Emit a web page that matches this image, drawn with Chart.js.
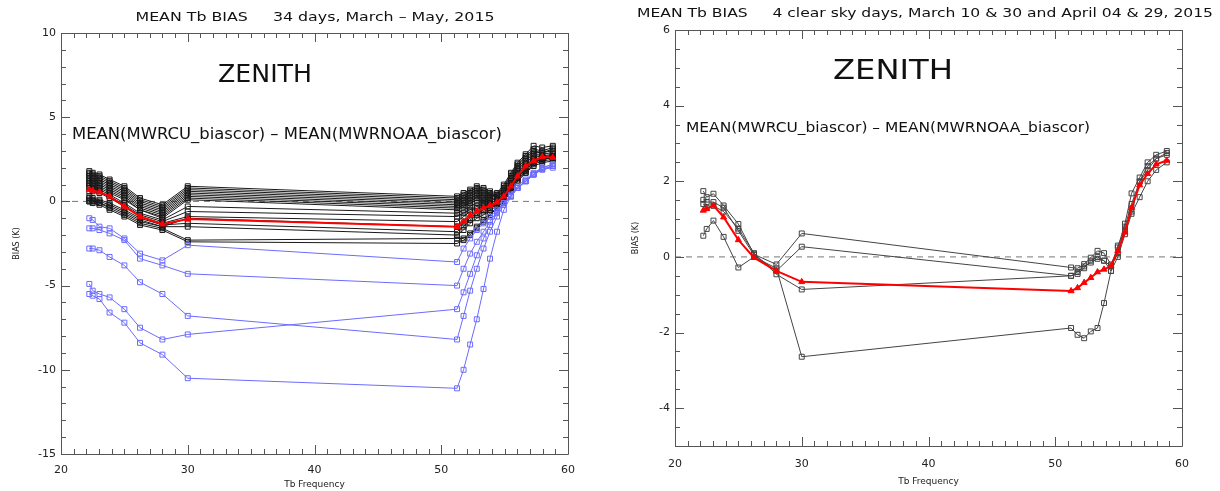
<!DOCTYPE html>
<html>
<head>
<meta charset="utf-8">
<script src="https://cdn.jsdelivr.net/npm/chart.js@4.4.0/dist/chart.umd.min.js"></script>
<style>
  html, body { margin: 0; padding: 0; background: #fff; }
  #wrap { display: flex; width: 1220px; height: 491px; }
  canvas { display: block; }
</style>
</head>
<body>
<div id="wrap">
  <canvas id="left" width="610" height="491"></canvas>
  <canvas id="right" width="610" height="491"></canvas>
</div>
<script>
// MWR channel frequencies (GHz)
const freq = [22.234, 22.5, 23.034, 23.834, 25.0, 26.234, 28.0, 30.0,
  51.248, 51.76, 52.28, 52.804, 53.336, 53.848, 54.4, 54.94, 55.5, 56.02, 56.66, 57.288, 57.964, 58.8];

const xTicks = [20, 30, 40, 50, 60];
const leftYTicks = [-15, -10, -5, 0, 5, 10];
const rightYTicks = [-4, -2, 0, 2, 4, 6];

// left panel: 34 days
const leftRed = [0.7, 0.65, 0.55, 0.3, -0.3, -0.9, -1.35, -1.05, -1.5, -1.2, -0.85, -0.6, -0.4, -0.25, -0.05, 0.3, 0.9, 1.5, 2.1, 2.4, 2.65, 2.6];

const leftBlue1 = [-1.0, -1.1, -1.5, -1.6, -2.2, -3.1, -3.5, -2.6, -3.6, -2.8, -2.2, -1.7, -1.3, -0.9, -0.5, -0.1, 0.4, 0.9, 1.3, 1.7, 2.0, 2.2];
const leftBlue2 = [-1.6, -1.6, -1.7, -1.9, -2.3, -3.4, -3.8, -4.3, -5.0, -4.0, -3.1, -2.4, -1.8, -1.2, -0.6, -0.1, 0.3, 0.8, 1.2, 1.6, 1.9, 2.1];
const leftBlue3 = [-2.8, -2.8, -2.9, -3.3, -3.8, -4.8, -5.5, -6.8, -8.2, -6.8, -5.3, -4.0, -2.8, -1.8, -0.9, -0.2, 0.3, 0.8, 1.2, 1.6, 1.9, 2.1];
const leftBlue4 = [-4.9, -5.3, -5.5, -5.7, -6.4, -7.5, -8.2, -7.9, -6.4, -5.4, -4.3, -3.2, -2.2, -1.4, -0.7, -0.1, 0.3, 0.8, 1.2, 1.6, 2.0, 2.2];
const leftBlue5 = [-5.5, -5.6, -5.8, -6.6, -7.2, -8.4, -9.1, -10.5, -11.1, -10.0, -8.5, -7.0, -5.2, -3.4, -1.8, -0.5, 0.3, 0.8, 1.2, 1.6, 1.9, 2.0];

const leftBlack1 = [1.8, 1.7, 1.6, 1.3, 0.9, 0.2, -0.2, 0.9, 0.3, 0.5, 0.7, 0.9, 0.8, 0.6, 0.5, 1.0, 1.7, 2.3, 2.8, 3.3, 3.2, 3.3];
const leftBlack2 = [1.7, 1.6, 1.5, 1.2, 0.8, 0.1, -0.3, 0.8, 0.2, 0.4, 0.6, 0.8, 0.7, 0.5, 0.4, 0.9, 1.6, 2.2, 2.7, 3.1, 3.0, 3.2];
const leftBlack3 = [1.6, 1.5, 1.4, 1.1, 0.7, 0.0, -0.4, 0.7, 0.1, 0.3, 0.5, 0.7, 0.6, 0.4, 0.4, 0.8, 1.5, 2.1, 2.6, 3.0, 2.9, 3.1];
const leftBlack4 = [1.5, 1.4, 1.3, 1.0, 0.6, -0.1, -0.5, 0.6, 0.0, 0.2, 0.4, 0.6, 0.5, 0.4, 0.3, 0.7, 1.4, 2.0, 2.5, 2.9, 2.9, 3.0];
const leftBlack5 = [1.4, 1.3, 1.2, 0.9, 0.5, -0.2, -0.6, 0.5, -0.1, 0.1, 0.3, 0.5, 0.4, 0.3, 0.3, 0.6, 1.3, 1.9, 2.4, 2.8, 2.8, 2.9];
const leftBlack6 = [1.3, 1.2, 1.1, 0.8, 0.4, -0.3, -0.7, 0.4, -0.2, 0.0, 0.2, 0.4, 0.3, 0.2, 0.2, 0.6, 1.2, 1.8, 2.3, 2.7, 2.7, 2.8];
const leftBlack7 = [1.2, 1.1, 1.0, 0.7, 0.3, -0.4, -0.8, 0.3, -0.3, -0.1, 0.1, 0.3, 0.2, 0.2, 0.1, 0.5, 1.1, 1.7, 2.2, 2.6, 2.7, 2.7];
const leftBlack8 = [1.1, 1.0, 0.9, 0.6, 0.2, -0.5, -0.9, 0.2, -0.4, -0.2, 0.0, 0.2, 0.1, 0.1, 0.1, 0.4, 1.0, 1.6, 2.1, 2.5, 2.6, 2.7];
const leftBlack9 = [1.0, 0.9, 0.8, 0.5, 0.1, -0.5, -1.0, 0.1, -0.5, -0.3, -0.1, 0.1, 0.0, 0.0, 0.0, 0.4, 1.0, 1.6, 2.1, 2.5, 2.6, 2.6];
const leftBlack10 = [0.9, 0.8, 0.7, 0.4, -0.1, -0.7, -1.1, -0.3, -0.7, -0.5, -0.3, -0.1, -0.1, -0.1, -0.1, 0.3, 0.9, 1.5, 2.0, 2.4, 2.5, 2.6];
const leftBlack11 = [0.8, 0.7, 0.6, 0.3, -0.2, -0.8, -1.2, -0.6, -0.9, -0.7, -0.5, -0.3, -0.2, -0.2, -0.1, 0.3, 0.9, 1.5, 2.0, 2.4, 2.6, 2.7];
const leftBlack12 = [0.6, 0.6, 0.5, 0.2, -0.3, -0.9, -1.3, -0.9, -1.2, -0.9, -0.6, -0.4, -0.3, -0.2, -0.1, 0.2, 0.8, 1.4, 1.9, 2.3, 2.5, 2.6];
const leftBlack13 = [0.3, 0.2, 0.1, -0.1, -0.5, -1.0, -1.4, -1.3, -1.8, -1.5, -1.1, -0.8, -0.6, -0.4, -0.2, 0.2, 0.8, 1.4, 1.9, 2.3, 2.5, 2.6];
const leftBlack14 = [0.1, 0.0, -0.1, -0.3, -0.7, -1.2, -1.5, -1.5, -2.0, -1.7, -1.3, -1.0, -0.8, -0.5, -0.3, 0.1, 0.7, 1.3, 1.8, 2.3, 2.5, 2.6];
const leftBlack15 = [0.0, 0.0, -0.1, -0.4, -0.8, -1.3, -1.6, -2.3, -2.2, -2.2, -1.9, -1.5, -1.1, -0.7, -0.4, 0.0, 0.6, 1.2, 1.7, 2.2, 2.4, 2.5];
const leftBlack16 = [0.0, -0.1, -0.2, -0.5, -0.9, -1.4, -1.7, -2.4, -2.5, -2.3, -2.0, -1.6, -1.2, -0.8, -0.4, 0.0, 0.6, 1.2, 1.7, 2.1, 2.3, 2.4];
const leftBlack17 = [0.2, 0.1, 0.0, -0.2, -0.6, -1.1, -1.5, -1.0, -1.5, -1.3, -1.0, -0.7, -0.5, -0.3, -0.2, 0.2, 0.8, 1.4, 1.9, 2.3, 2.5, 2.6];

// right panel: 4 clear sky days
const rightRed = [1.23, 1.27, 1.36, 1.05, 0.45, -0.02, -0.37, -0.66, -0.9, -0.82, -0.68, -0.55, -0.4, -0.33, -0.24, 0.16, 0.65, 1.3, 1.9, 2.2, 2.45, 2.55];
const rightBlack1 = [1.74, 1.58, 1.67, 1.36, 0.87, 0.07, -0.2, 0.62, -0.28, -0.3, -0.19, -0.02, 0.16, 0.1, -0.2, 0.25, 0.88, 1.68, 2.1, 2.5, 2.7, 2.8];
const rightBlack2 = [1.51, 1.45, 1.45, 1.3, 0.69, 0.05, -0.37, 0.27, -0.5, -0.45, -0.3, -0.1, 0.0, -0.1, -0.25, 0.1, 0.8, 1.4, 2.0, 2.4, 2.6, 2.7];
const rightBlack3 = [1.4, 1.3, 1.35, 1.2, 0.75, 0.1, -0.46, -0.86, -0.5, -0.4, -0.25, -0.15, -0.05, -0.1, -0.37, 0.0, 0.6, 1.14, 1.58, 2.0, 2.3, 2.5];
const rightBlack4 = [0.56, 0.74, 0.96, 0.53, -0.28, 0.0, -0.3, -2.64, -1.88, -2.06, -2.15, -1.97, -1.88, -1.22, -0.37, 0.3, 0.7, 1.2, 1.98, 2.3, 2.6, 2.75];

const FONT = "'DejaVu Sans', sans-serif";

function series(values, color, extra) {
  return Object.assign({
    data: values.map((v, i) => ({x: freq[i], y: v})),
    borderColor: color,
    borderWidth: 1,
    pointStyle: 'rect',
    pointRadius: 3.5,
    pointBorderColor: color,
    pointBorderWidth: 1,
    pointBackgroundColor: 'rgba(0,0,0,0)',
    tension: 0
  }, extra || {});
}

function redSeries(values) {
  return series(values, '#ff0000', {
    borderWidth: 2,
    pointStyle: 'triangle',
    pointRadius: 3.5,
    pointBackgroundColor: '#ff0000'
  });
}

function zeroLine() {
  return {
    data: [{x: 20, y: 0}, {x: 60, y: 0}],
    borderColor: '#777',
    borderWidth: 1,
    borderDash: [6, 5],
    pointRadius: 0
  };
}

// inward ticks, frame box and the free text of each panel
const framePlugin = {
  id: 'frame',
  afterDraw(chart) {
    const opts = chart.config.options.frameCfg;
    const {ctx, chartArea: a, scales: {x, y}} = chart;
    ctx.save();
    ctx.strokeStyle = '#555';
    ctx.lineWidth = 1;
    ctx.beginPath();
    ctx.rect(Math.round(a.left) + 0.5, Math.round(a.top) + 0.5, Math.round(a.width), Math.round(a.height));
    for (let v = 20; v <= 60; v += 1) {
      const px = Math.round(x.getPixelForValue(v)) + 0.5;
      const len = v % 10 === 0 ? 9 : 5;
      ctx.moveTo(px, a.bottom); ctx.lineTo(px, a.bottom - len);
      ctx.moveTo(px, a.top); ctx.lineTo(px, a.top + len);
    }
    const n = Math.round((opts.yMax - opts.yMin) / opts.yMinor);
    for (let i = 0; i <= n; i++) {
      const v = opts.yMin + i * opts.yMinor;
      const py = Math.round(y.getPixelForValue(v)) + 0.5;
      const r = Math.abs(v / opts.yMajor - Math.round(v / opts.yMajor));
      const len = r < 1e-6 ? 9 : 5;
      ctx.moveTo(a.left, py); ctx.lineTo(a.left + len, py);
      ctx.moveTo(a.right, py); ctx.lineTo(a.right - len, py);
    }
    ctx.stroke();

    ctx.fillStyle = '#111';
    ctx.textAlign = 'center';
    ctx.textBaseline = 'middle';
    opts.texts.forEach(t => {
      ctx.save();
      ctx.font = t.font;
      const w = ctx.measureText(t.text).width;
      ctx.translate(t.x, t.y);
      ctx.scale(t.width / w, 1);
      ctx.fillText(t.text, 0, 0);
      ctx.restore();
    });
    ctx.restore();
  }
};

function makeChart(id, datasets, cfg) {
  return new Chart(document.getElementById(id), {
    type: 'line',
    data: {datasets},
    plugins: [framePlugin],
    options: {
      responsive: false,
      animation: false,
      frameCfg: cfg,
      layout: {padding: {top: cfg.top, right: cfg.right, left: 0, bottom: 0}},
      plugins: {
        legend: {display: false},
        tooltip: {enabled: false}
      },
      scales: {
        x: {
          type: 'linear',
          min: 20, max: 60,
          afterBuildTicks: s => { s.ticks = xTicks.map(v => ({value: v})); },
          afterFit: s => { s.height = cfg.xHeight; },
          grid: {display: false, drawTicks: false},
          border: {display: false},
          ticks: {padding: cfg.xPad, color: '#222', font: {family: FONT, size: 11}, maxRotation: 0, autoSkip: false},
          title: {display: true, text: 'Tb Frequency', color: '#222', font: {family: FONT, size: 9}, padding: {top: 0, bottom: cfg.xTitlePad}}
        },
        y: {
          type: 'linear',
          min: cfg.yMin, max: cfg.yMax,
          afterBuildTicks: s => { s.ticks = cfg.yTicks.map(v => ({value: v})); },
          afterFit: s => { s.width = cfg.yWidth; },
          grid: {display: false, drawTicks: false},
          border: {display: false},
          ticks: {padding: 5, color: '#222', font: {family: FONT, size: 11}, autoSkip: false},
          title: {display: true, text: 'BIAS (K)', color: '#222', font: {family: FONT, size: 8}, padding: {top: cfg.yTitlePad, bottom: 0}}
        }
      }
    }
  });
}

const leftSets = [
  redSeries(leftRed),
  ...[leftBlue1, leftBlue2, leftBlue3, leftBlue4, leftBlue5].map(v => series(v, '#6b6bff')),
  ...[leftBlack1, leftBlack2, leftBlack3, leftBlack4, leftBlack5, leftBlack6, leftBlack7, leftBlack8, leftBlack9,
      leftBlack10, leftBlack11, leftBlack12, leftBlack13, leftBlack14, leftBlack15, leftBlack16, leftBlack17]
      .map(v => series(v, '#1a1a1a')),
  zeroLine()
];

const rightSets = [
  redSeries(rightRed),
  ...[rightBlack1, rightBlack2, rightBlack3, rightBlack4].map(v => series(v, '#444')),
  zeroLine()
];

makeChart('left', leftSets, {
  top: 33, right: 42, yWidth: 61, xHeight: 37, xPad: 10, xTitlePad: 1, yTitlePad: 12,
  yMin: -15, yMax: 10, yTicks: leftYTicks, yMinor: 1, yMajor: 5,
  texts: [
    {text: 'MEAN Tb BIAS     34 days, March \u2013 May, 2015', x: 315, y: 18, width: 359, font: '12px ' + FONT},
    {text: 'ZENITH', x: 265, y: 76, width: 94, font: '24px ' + FONT},
    {text: 'MEAN(MWRCU_biascor) \u2013 MEAN(MWRNOAA_biascor)', x: 287, y: 135, width: 430, font: '15px ' + FONT}
  ]
});

makeChart('right', rightSets, {
  top: 30, right: 38, yWidth: 65, xHeight: 45, xPad: 12, xTitlePad: 4, yTitlePad: 21,
  yMin: -5, yMax: 6, yTicks: rightYTicks, yMinor: 0.5, yMajor: 2,
  texts: [
    {text: 'MEAN Tb BIAS     4 clear sky days, March 10 & 30 and April 04 & 29, 2015', x: 315, y: 14, width: 576, font: '12px ' + FONT},
    {text: 'ZENITH', x: 283, y: 72, width: 120, font: '26px ' + FONT},
    {text: 'MEAN(MWRCU_biascor) \u2013 MEAN(MWRNOAA_biascor)', x: 278, y: 128, width: 404, font: '14px ' + FONT}
  ]
});
</script>
</body>
</html>
